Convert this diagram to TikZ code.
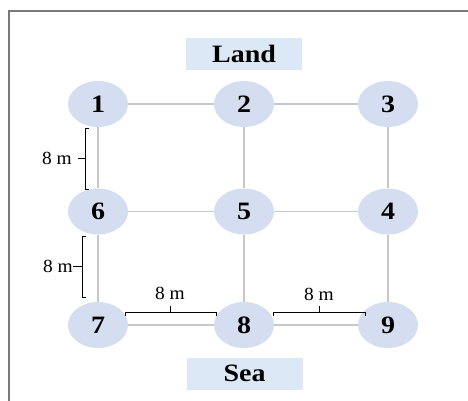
\documentclass[tikz,border=0pt]{standalone}
\usepackage{fontspec}
\usepackage{graphicx}
\setmainfont{Liberation Serif}
\usetikzlibrary{shapes.geometric,calc}

\definecolor{sitefill}{HTML}{D5DDF0}
\definecolor{zonefill}{HTML}{DCE8F5}
\definecolor{linkgray}{HTML}{C8C8C8}
\definecolor{framegray}{HTML}{7A7A7A}

% slightly widened lettering
\newcommand{\widetxt}[1]{\scalebox{1.12}[1]{#1}}
\newcommand{\dimtxt}[1]{\scalebox{1.05}[1]{#1}}

\tikzset{
  site/.style={ellipse, fill=sitefill, minimum width=60pt, minimum height=46pt,
    inner sep=0pt, font=\fontsize{25}{25}\selectfont\bfseries},
  zone/.style={rectangle, fill=zonefill, minimum width=116pt, minimum height=32pt,
    inner sep=0pt, font=\fontsize{25}{25}\selectfont\bfseries},
  link/.style={draw=linkgray, line width=1.6pt},
  dimline/.style={draw=black, line width=0.8pt},
  dimlabel/.style={inner sep=0pt, font=\fontsize{18.5}{18.5}\selectfont},
}

\begin{document}
\begin{tikzpicture}[x=1pt, y=-1pt]
  \useasboundingbox (0,0) rectangle (468,400);
  % outer frame, running past the right and bottom edges
  \draw[framegray, line width=2pt] (8.5,410) -- (8.5,11) -- (480,11);

  % zone labels
  \node[zone] (land) at (244,54) {\widetxt{Land}};
  \node[zone] (sea)  at (244.5,373.5) {\widetxt{Sea}};

  % monitoring sites
  \node[site] (n1) at (98,104)  {\widetxt{1}};
  \node[site] (n2) at (244,104) {\widetxt{2}};
  \node[site] (n3) at (388,104) {\widetxt{3}};
  \node[site] (n6) at (98,211.5)  {\widetxt{6}};
  \node[site] (n5) at (244,211.5) {\widetxt{5}};
  \node[site] (n4) at (388,211.5) {\widetxt{4}};
  \node[site] (n7) at (98,325)  {\widetxt{7}};
  \node[site] (n8) at (244,325) {\widetxt{8}};
  \node[site] (n9) at (388,325) {\widetxt{9}};

  % grid links
  \draw[link] (n1) -- (n2);
  \draw[link] (n2) -- (n3);
  \draw[link] (n6) -- (n5);
  \draw[link] (n5) -- (n4);
  \draw[link] (n7) -- (n8);
  \draw[link] (n8) -- (n9);
  \draw[link] (n1) -- (n6);
  \draw[link] (n6) -- (n7);
  \draw[link] (n2) -- (n5);
  \draw[link] (n5) -- (n8);
  \draw[link] (n3) -- (n4);
  \draw[link] (n4) -- (n9);

  % spacing brackets
  \coordinate (b1t) at (85,128);
  \coordinate (b1b) at (85,189);
  \coordinate (b1m) at (85,158);
  \draw[dimline] ($(b1t)+(4,0)$) -- (b1t) -- (b1b) -- ($(b1b)+(4,0)$);
  \draw[dimline] (b1m) -- ++(-7,0);
  \node[dimlabel, anchor=base east] (l1) at (72,164.5) {\dimtxt{8 m}};

  \coordinate (b2t) at (82,236);
  \coordinate (b2b) at (82,297);
  \coordinate (b2m) at (82,266);
  \draw[dimline] ($(b2t)+(4,0)$) -- (b2t) -- (b2b) -- ($(b2b)+(4,0)$);
  \draw[dimline] (b2m) -- ++(-9,0);
  \node[dimlabel, anchor=base east] (l2) at (73,272.5) {\dimtxt{8 m}};

  \coordinate (b3l) at (125,312);
  \coordinate (b3r) at (216,312);
  \coordinate (b3m) at (170,312);
  \draw[dimline] ($(b3l)+(0,4)$) -- (b3l) -- (b3r) -- ($(b3r)+(0,4)$);
  \draw[dimline] (b3m) -- ++(0,-6);
  \node[dimlabel, anchor=base] (l3) at (170,299) {\dimtxt{8 m}};

  \coordinate (b4l) at (273,312);
  \coordinate (b4r) at (365,312);
  \coordinate (b4m) at (319,312);
  \draw[dimline] ($(b4l)+(0,4)$) -- (b4l) -- (b4r) -- ($(b4r)+(0,4)$);
  \draw[dimline] (b4m) -- ++(0,-6);
  \node[dimlabel, anchor=base] (l4) at (319,300) {\dimtxt{8 m}};
\end{tikzpicture}
\end{document}
